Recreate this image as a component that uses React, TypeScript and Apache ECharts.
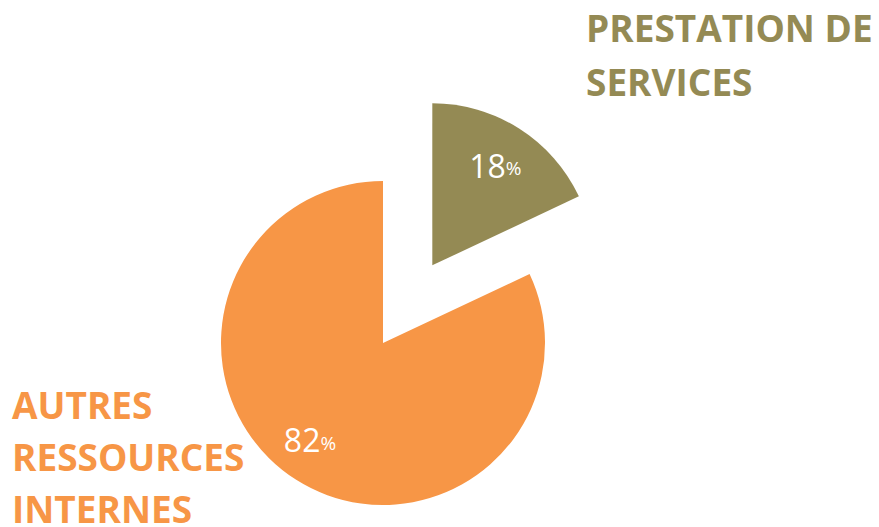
import React, { useEffect, useRef } from "react";
import * as echarts from "echarts";

const categories = ["PRESTATION DE SERVICES", "AUTRES RESSOURCES INTERNES"];
const categoryLines = [["PRESTATION DE", "SERVICES"], ["AUTRES", "RESSOURCES", "INTERNES"]];
const values = [18, 82];
const colors = ["#948A54", "#F79646"];

export default function App() {
  const ref = useRef<HTMLDivElement>(null);
  useEffect(() => {
    document.body.style.margin = "0";
    const chart = echarts.init(ref.current!, null, { renderer: "svg" });
    const labelOffsets = [[18, -29], [-28, 26]];
    chart.setOption({
      animation: false,
      backgroundColor: "#ffffff",
      series: [
        {
          type: "pie",
          center: [383, 343],
          radius: [0, 162],
          startAngle: 90,
          clockwise: true,
          selectedMode: "multiple",
          selectedOffset: 92,
          emphasis: { disabled: true },
          label: {
            show: true,
            position: "inside",
            formatter: (p: any) => `{v|${p.value}}{p|%}`,
            rich: {
              v: { fontSize: 32, color: "#ffffff", fontFamily: "Open Sans", fontWeight: 400 },
              p: { fontSize: 19, color: "#ffffff", fontFamily: "Open Sans", padding: [6, 0, 0, 0] },
            },
          },
          labelLine: { show: false },
          data: values.map((v, i) => ({
            name: categories[i],
            value: v,
            selected: i === 0,
            itemStyle: { color: colors[i] },
            label: { offset: labelOffsets[i] },
            select: { label: { offset: labelOffsets[i] } },
          })),
        },
      ],
      graphic: [
        {
          type: "text",
          left: 586,
          top: 0,
          style: {
            text: categoryLines[0].join("\n"),
            fill: colors[0],
            font: "bold 37px 'Open Sans'",
            lineHeight: 54,
          },
        },
        {
          type: "text",
          left: 12,
          top: 378,
          style: {
            text: categoryLines[1].join("\n"),
            fill: colors[1],
            font: "bold 37px 'Open Sans'",
            lineHeight: 52,
          },
        },
      ],
    });
    return () => chart.dispose();
  }, []);
  return <div ref={ref} style={{ width: 879, height: 527 }} />;
}
